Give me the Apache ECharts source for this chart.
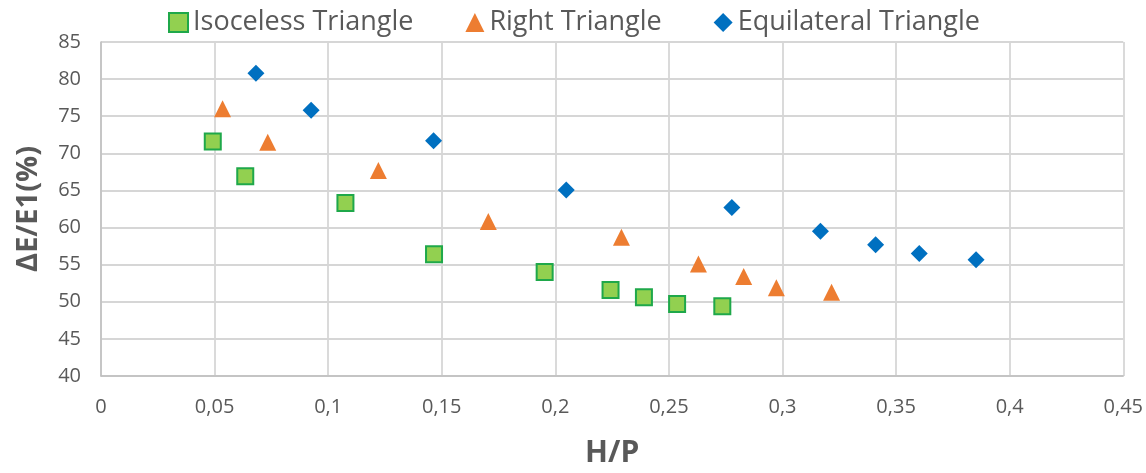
<!DOCTYPE html>
<html>
<head>
<meta charset="utf-8">
<script src="https://cdn.jsdelivr.net/npm/echarts@6/dist/echarts.min.js"></script>
<style>
html,body{margin:0;padding:0;background:#fff;}
#chart{width:1146px;height:473px;}
</style>
</head>
<body>
<div id="chart"></div>
<script>
// ---- data ----
const seriesNames = ['Isoceless Triangle', 'Right Triangle', 'Equilateral Triangle'];
const isoX = [0.0492, 0.0635, 0.1076, 0.1466, 0.1953, 0.2243, 0.2390, 0.2536, 0.2735];
const isoY = [71.6, 66.9, 63.3, 56.4, 54.0, 51.6, 50.6, 49.7, 49.4];
const rightX = [0.0535, 0.0734, 0.1221, 0.1705, 0.2291, 0.2630, 0.2829, 0.2973, 0.3216];
const rightY = [76.0, 71.5, 67.7, 60.8, 58.7, 55.1, 53.4, 51.9, 51.3];
const equiX = [0.0682, 0.0925, 0.1464, 0.2048, 0.2777, 0.3167, 0.3410, 0.3602, 0.3852];
const equiY = [80.8, 75.8, 71.7, 65.05, 62.7, 59.5, 57.7, 56.5, 55.65];
const xTickLabels = ['0', '0,05', '0,1', '0,15', '0,2', '0,25', '0,3', '0,35', '0,4', '0,45'];
const yTickLabels = ['40', '45', '50', '55', '60', '65', '70', '75', '80', '85'];
const xAxisTitle = 'H/P';
const yAxisTitle = 'ΔE/E1(%)';

function pairs(xs, ys) { return xs.map((x, i) => [x, ys[i]]); }

const FONT = '"Open Sans", "Noto Sans", sans-serif';
const TXT = '#595959';

const chart = echarts.init(document.getElementById('chart'), null, { renderer: 'canvas' });
chart.setOption({
  animation: false,
  backgroundColor: '#ffffff',
  textStyle: { fontFamily: FONT },
  legend: {
    left: 163,
    top: 4,
    itemWidth: 19,
    itemHeight: 19,
    itemGap: 52,
    textStyle: { fontFamily: FONT, fontSize: 27, color: TXT },
    data: [
      { name: seriesNames[0], icon: 'rect' },
      { name: seriesNames[1], icon: 'triangle' },
      { name: seriesNames[2], icon: 'diamond' }
    ]
  },
  grid: { left: 101, right: 22, top: 42, bottom: 97, containLabel: false },
  xAxis: {
    type: 'value', min: 0, max: 0.45, interval: 0.05,
    name: xAxisTitle, nameLocation: 'middle', nameGap: 62,
    nameTextStyle: { fontFamily: FONT, fontSize: 30, fontWeight: 'bold', color: TXT },
    axisLine: { show: true, lineStyle: { color: '#bfbfbf', width: 1.5 } },
    axisTick: { show: false },
    axisLabel: {
      margin: 21, fontFamily: FONT, fontSize: 20, color: TXT,
      formatter: v => xTickLabels[Math.round(v / 0.05)]
    },
    splitLine: { show: true, lineStyle: { color: '#d6d6d6', width: 1.8 } }
  },
  yAxis: {
    type: 'value', min: 40, max: 85, interval: 5,
    name: yAxisTitle, nameLocation: 'middle', nameGap: 58, nameRotate: 90,
    nameTextStyle: { fontFamily: FONT, fontSize: 29, fontWeight: 'bold', color: TXT },
    axisLine: { show: true, lineStyle: { color: '#bfbfbf', width: 1.5 } },
    axisTick: { show: false },
    axisLabel: {
      margin: 20, fontFamily: FONT, fontSize: 20, color: TXT,
      formatter: v => yTickLabels[Math.round((v - 40) / 5)]
    },
    splitLine: { show: true, lineStyle: { color: '#d6d6d6', width: 1.8 } }
  },
  series: [
    {
      name: seriesNames[0], type: 'scatter', symbol: 'rect', symbolSize: 16,
      itemStyle: { color: '#92d050', borderColor: '#1fa84a', borderWidth: 2, opacity: 1 },
      data: pairs(isoX, isoY)
    },
    {
      name: seriesNames[1], type: 'scatter', symbol: 'triangle', symbolSize: 17,
      itemStyle: { color: '#ed7d31', opacity: 1 },
      data: pairs(rightX, rightY)
    },
    {
      name: seriesNames[2], type: 'scatter', symbol: 'diamond', symbolSize: 17,
      itemStyle: { color: '#0070c0', opacity: 1 },
      data: pairs(equiX, equiY)
    }
  ]
});
</script>
</body>
</html>
